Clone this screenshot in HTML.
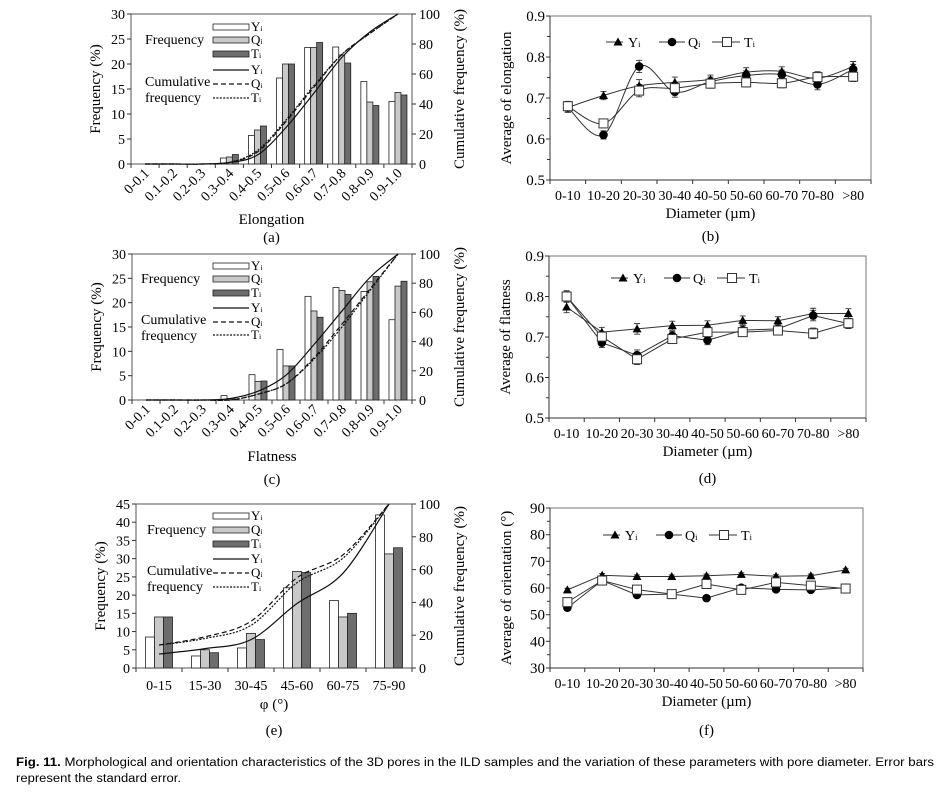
<!DOCTYPE html>
<html><head><meta charset="utf-8"><style>
html,body{margin:0;padding:0;background:#fff;}
svg{display:block;font-family:"Liberation Serif",serif;}
</style></head><body>
<svg id="fig" width="949" height="793" viewBox="0 0 949 793" xmlns="http://www.w3.org/2000/svg">
<text x="16" y="766" font-family="Liberation Sans Narrow, Liberation Sans, sans-serif" font-size="11.5" textLength="918" lengthAdjust="spacingAndGlyphs"><tspan font-weight="bold">Fig. 11.</tspan> Morphological and orientation characteristics of the 3D pores in the ILD samples and the variation of these parameters with pore diameter. Error bars</text>
<text x="16" y="782" font-family="Liberation Sans Narrow, Liberation Sans, sans-serif" font-size="11.5" textLength="165" lengthAdjust="spacingAndGlyphs">represent the standard error.</text>
</svg>
<script>
// ---------- data ----------
const elongCats = ['0-0.1','0.1-0.2','0.2-0.3','0.3-0.4','0.4-0.5','0.5-0.6','0.6-0.7','0.7-0.8','0.8-0.9','0.9-1.0'];
const elongY = [0,0,0,1.2,5.7,17.2,23.3,23.4,16.5,12.5];
const elongQ = [0,0,0,1.4,6.8,20.0,23.3,21.8,12.4,14.3];
const elongT = [0,0,0,1.9,7.6,20.0,24.3,20.2,11.7,13.8];
const elongCumY = [0,0,0,1,6,24,47,71,88,100];
const elongCumQ = [0,0,0,1,8,28,51,73,87,100];
const elongCumT = [0,0,0,1,9,29,52,73,87,100];

const flatCats = elongCats;
const flatY = [0,0,0,0.9,5.2,10.4,21.3,23.1,22.3,16.5];
const flatQ = [0,0,0,0.3,3.8,7.0,18.3,22.5,24.3,23.4];
const flatT = [0,0,0,0.2,3.9,7.0,17.0,21.7,25.4,24.4];
const flatCumY = [0,0,0,1,6,17,38,61,84,100];
const flatCumQ = [0,0,0,0,4,11,29,52,76,100];
const flatCumT = [0,0,0,0,4,11,28,50,75,100];

const phiCats = ['0-15','15-30','30-45','45-60','60-75','75-90'];
const phiY = [8.5,3.3,5.5,22.0,18.5,42.0];
const phiQ = [14.0,5.0,9.5,26.5,14.0,31.3];
const phiT = [14.0,4.2,7.8,26.2,15.0,33.0];
const phiCumY = [8.5,11.8,17.3,39.3,57.8,100];
const phiCumQ = [14,19,28.5,55,69,100];
const phiCumT = [14,18,26,52,67,100];

const diamCats = ['0-10','10-20','20-30','30-40','40-50','50-60','60-70','70-80','>80'];
const elAvgY = [0.677,0.706,0.730,0.738,0.745,0.763,0.765,0.748,0.777];
const elAvgQ = [0.677,0.610,0.777,0.715,0.740,0.755,0.757,0.733,0.770];
const elAvgT = [0.680,0.638,0.718,0.724,0.735,0.738,0.736,0.751,0.752];
const elErr = [0.012,0.010,0.015,0.013,0.011,0.011,0.011,0.013,0.012];
const flAvgY = [0.774,0.712,0.720,0.728,0.729,0.741,0.740,0.758,0.758];
const flAvgQ = [0.800,0.686,0.655,0.703,0.692,0.717,0.720,0.753,0.733];
const flAvgT = [0.800,0.701,0.645,0.695,0.712,0.712,0.716,0.709,0.734];
const flErr = [0.014,0.012,0.013,0.011,0.011,0.011,0.010,0.013,0.012];
const orAvgY = [59.3,64.8,64.3,64.3,64.6,65.1,64.4,64.6,66.8];
const orAvgQ = [52.6,62.8,57.4,57.7,56.2,60.1,59.5,59.3,60.1];
const orAvgT = [54.7,62.8,59.4,57.7,61.5,59.3,62.1,60.9,59.8];
const orErr = [0.6,0.6,0.6,0.6,0.6,0.6,0.6,0.6,0.6];

const leftTicks30 = [0,5,10,15,20,25,30];
const leftTicks45 = [0,5,10,15,20,25,30,35,40,45];
const cumTicks = [0,20,40,60,80,100];
const elTicks = [0.5,0.6,0.7,0.8,0.9];
const orTicks = [30,40,50,60,70,80,90];

// ---------- helpers ----------
const NS = 'http://www.w3.org/2000/svg';
const svg = document.getElementById('fig');
function mk(tag, attrs, parent){
  const e = document.createElementNS(NS, tag);
  for (const k in attrs) e.setAttribute(k, attrs[k]);
  (parent||svg).appendChild(e);
  return e;
}
function txt(str, attrs, parent){
  const e = mk('text', attrs, parent);
  e.textContent = str;
  return e;
}
function sub(e, base, s){
  e.textContent = base;
  const t = document.createElementNS(NS,'tspan');
  t.setAttribute('font-size','0.6em');
  t.textContent = s;
  e.appendChild(t);
}
function smooth(pts){
  let d = 'M'+pts[0][0]+','+pts[0][1];
  for (let i=0;i<pts.length-1;i++){
    const p0=pts[Math.max(0,i-1)], p1=pts[i], p2=pts[i+1], p3=pts[Math.min(pts.length-1,i+2)];
    const c1x=p1[0]+(p2[0]-p0[0])/6, c1y=p1[1]+(p2[1]-p0[1])/6;
    const c2x=p2[0]-(p3[0]-p1[0])/6, c2y=p2[1]-(p3[1]-p1[1])/6;
    d += ' C'+c1x+','+c1y+' '+c2x+','+c2y+' '+p2[0]+','+p2[1];
  }
  return d;
}
const FILLS = ['#ffffff','#c9c9c9','#6d6d6d'];
const DASH = ['none','5,3','2,1.4'];
const SER = ['Y','Q','T'];

// ---------- frequency panel ----------
function freqPanel(p){
  const g = mk('g',{});
  
  
  const n = p.cats.length, cw = (p.R-p.L)/n;
  const yS = v => p.B - (v/p.ymax)*(p.B-p.T);
  const cS = v => p.B - (v/100)*(p.B-p.T);
  const xC = i => p.L + cw*(i+0.5);
  const frame = mk('rect',{x:p.L,y:p.T,width:p.R-p.L,height:p.B-p.T,fill:'none',stroke:'#555','stroke-width':1},g);
  
  
  p.ticks.forEach(v=>{
    const y=yS(v);
    mk('line',{x1:p.L-4,x2:p.L,y1:y,y2:y,stroke:'#333'},g);
    const t = txt(String(v),{x:p.L-6,y:y+5,'text-anchor':'end','font-size':14},g);
    
    
  });
  cumTicks.forEach(v=>{
    const y=cS(v);
    mk('line',{x1:p.R,x2:p.R+4,y1:y,y2:y,stroke:'#333'},g);
    const t = txt(String(v),{x:p.R+7,y:y+5,'font-size':14},g);
    
    
  });
  for (let i=0;i<=n;i++){
    const x=p.L+cw*i;
    mk('line',{x1:x,x2:x,y1:p.B,y2:p.B+4,stroke:'#333'},g);
  }
  const series=[p.y,p.q,p.t];
  const bw=p.bw;
  series.forEach((arr,s)=>{
    arr.forEach((v,i)=>{
      if (v<=0) return;
      const x = xC(i)+(s-1.5)*bw;
      const r = mk('rect',{x:x,y:yS(v),width:bw,height:p.B-yS(v),fill:FILLS[s],stroke:'#222','stroke-width':0.8},g);
      
      
    });
  });
  [p.cy,p.cq,p.ct].forEach((arr,s)=>{
    const pts = arr.map((v,i)=>[xC(i),cS(v)]);
    const path = mk('path',{d:smooth(pts),fill:'none',stroke:'#111','stroke-width':1.2,'stroke-dasharray':DASH[s]},g);
    
    
  });
  p.cats.forEach((c,i)=>{
    if (p.rot){
      const x=xC(i)+5, y=p.B+10;
      const t = txt(c,{x:x,y:y,'text-anchor':'end','font-size':14,transform:'rotate(-45 '+x+' '+y+')'},g);
      
      
    } else {
      const t = txt(c,{x:xC(i),y:p.B+22,'text-anchor':'middle','font-size':14},g);
      
      
    }
  });
  const yt = txt('Frequency (%)',{x:0,y:0,'text-anchor':'middle','font-size':15,transform:'translate('+(p.L-31)+','+((p.T+p.B)/2)+') rotate(-90)'},g);
  
  
  const y2 = txt('Cumulative frequency (%)',{x:0,y:0,'text-anchor':'middle','font-size':15,transform:'translate('+(p.R+52)+','+((p.T+p.B)/2)+') rotate(-90)'},g);
  
  
  const xt = txt(p.xlabel,{x:(p.L+p.R)/2,y:p.xly,'text-anchor':'middle','font-size':15},g);
  
  
  const pl = txt(p.letter,{x:(p.L+p.R)/2,y:p.ply,'text-anchor':'middle','font-size':15},g);
  
  
  // legend
  const lg = mk('g',{},g);
  
  
  const f1 = txt('Frequency',{x:p.lgx,y:p.lg[1]+4,'font-size':14},lg);
  
  
  const c1 = txt('Cumulative',{x:p.lgx,y:p.lg[4]+2,'font-size':14},lg);
  
  
  const c2 = txt('frequency',{x:p.lgx,y:p.lg[4]+18,'font-size':14},lg);
  
  
  for (let s=0;s<3;s++){
    const r = mk('rect',{x:213,y:p.lg[s]-3,width:36,height:6,fill:FILLS[s],stroke:'#222','stroke-width':0.8},lg);
    
    
    const t = txt('',{x:251,y:p.lg[s]+4,'font-size':13},lg);
    sub(t,SER[s],'i');
    
    
    const l = mk('line',{x1:213,x2:249,y1:p.lg[s+3],y2:p.lg[s+3],stroke:'#111','stroke-width':1.2,'stroke-dasharray':DASH[s]},lg);
    
    
    const t2 = txt('',{x:251,y:p.lg[s+3]+4,'font-size':13},lg);
    sub(t2,SER[s],'i');
    
    
  }
}

// ---------- average panel ----------
function marker(s,x,y,parent){
  let m;
  if (s===0) m = mk('path',{d:'M'+x+','+(y-4.5)+' L'+(x+4.5)+','+(y+3.5)+' L'+(x-4.5)+','+(y+3.5)+'Z',fill:'#000'},parent);
  else if (s===1) m = mk('circle',{cx:x,cy:y,r:4.3,fill:'#000'},parent);
  else m = mk('rect',{x:x-4.5,y:y-4.5,width:9,height:9,fill:'#fff',stroke:'#333','stroke-width':1},parent);
  return m;
}
function avgPanel(p){
  const g = mk('g',{});
  
  
  const n = diamCats.length, cw=(p.R-p.L)/n;
  const yS = v => p.B - (v-p.ymin)/(p.ymax-p.ymin)*(p.B-p.T);
  const xC = i => p.L + cw*(i+0.5);
  const frame = mk('rect',{x:p.L,y:p.T,width:p.R-p.L,height:p.B-p.T,fill:'none',stroke:'#777','stroke-width':1},g);
  
  
  mk('line',{x1:p.L,x2:p.L,y1:p.T,y2:p.B,stroke:'#333'},g);
  mk('line',{x1:p.L,x2:p.R,y1:p.B,y2:p.B,stroke:'#333'},g);
  p.ticks.forEach((v,k)=>{
    const y=yS(v);
    mk('line',{x1:p.L-4,x2:p.L,y1:y,y2:y,stroke:'#333'},g);
    if (k<p.ticks.length-1){
      const ym=yS(v+(p.ticks[1]-p.ticks[0])/2);
      mk('line',{x1:p.L-3,x2:p.L,y1:ym,y2:ym,stroke:'#333'},g);
    }
    const t = txt(String(v),{x:p.L-5,y:y+5,'text-anchor':'end','font-size':15},g);
    
    
  });
  for (let i=0;i<=n;i++){
    const x=p.L+cw*i;
    mk('line',{x1:x,x2:x,y1:p.B,y2:p.B+4,stroke:'#333'},g);
  }
  diamCats.forEach((c,i)=>{
    const t = txt(c,{x:xC(i),y:p.B+20,'text-anchor':'middle','font-size':14},g);
    
    
  });
  const series=[p.y,p.q,p.t];
  series.forEach((arr,s)=>{
    const pts = arr.map((v,i)=>[xC(i),yS(v)]);
    const d = p.smooth ? smooth(pts) : 'M'+pts.map(q=>q.join(',')).join(' L');
    const path = mk('path',{d:d,fill:'none',stroke:'#333','stroke-width':1},g);
    
    
  });
  series.forEach((arr,s)=>{
    arr.forEach((v,i)=>{
      const x=xC(i), e=p.err[i];
      const y1=yS(v+e), y2=yS(v-e);
      const eb = mk('path',{d:'M'+x+','+y1+' L'+x+','+y2+' M'+(x-3)+','+y1+' L'+(x+3)+','+y1+' M'+(x-3)+','+y2+' L'+(x+3)+','+y2,stroke:'#333','stroke-width':0.9,fill:'none'},g);
      
      
    });
  });
  series.forEach((arr,s)=>{
    arr.forEach((v,i)=>{
      const m = marker(s,xC(i),yS(v),g);
      
      
    });
  });
  const yt = txt(p.ylabel,{x:0,y:0,'text-anchor':'middle','font-size':15,transform:'translate('+(p.L-39)+','+((p.T+p.B)/2)+') rotate(-90)'},g);
  
  
  const xt = txt('Diameter (\u00b5m)',{x:(p.L+p.R)/2,y:p.B+38,'text-anchor':'middle','font-size':15},g);
  
  
  const pl = txt(p.letter,{x:(p.L+p.R)/2,y:p.ply,'text-anchor':'middle','font-size':15},g);
  
  
  const lg = mk('g',{},g);
  
  
  const ly=p.ly, ox=p.lx;
  const spec=[[606,623,618,628],[659,685,672,688],[712,740,727,744]];
  spec.forEach((sp,s)=>{
    mk('line',{x1:sp[0]+ox,x2:sp[1]+ox,y1:ly,y2:ly,stroke:'#333'},lg);
    const m = marker(s,sp[2]+ox,ly,lg);
    
    
    const t = txt('',{x:sp[3]+ox,y:ly+5,'font-size':14},lg);
    sub(t,SER[s],'i');
    
    
  });
}

freqPanel({name:'panel-a-elongation-frequency',L:131,R:412,T:14,B:164,ymax:30,ticks:leftTicks30,cats:elongCats,y:elongY,q:elongQ,t:elongT,cy:elongCumY,cq:elongCumQ,ct:elongCumT,bw:6,rot:true,xlabel:'Elongation',xly:224,letter:'(a)',ply:242,lgx:145,lg:[27,40,54,70,84,98]});
freqPanel({name:'panel-c-flatness-frequency',L:132,R:412,T:254,B:400,ymax:30,ticks:leftTicks30,cats:flatCats,y:flatY,q:flatQ,t:flatT,cy:flatCumY,cq:flatCumQ,ct:flatCumT,bw:6,rot:true,xlabel:'Flatness',xly:461,letter:'(c)',ply:484,lgx:141,lg:[266,279,293,308,322,335]});
freqPanel({name:'panel-e-orientation-frequency',L:136,R:412,T:504,B:668,ymax:45,ticks:leftTicks45,cats:phiCats,y:phiY,q:phiQ,t:phiT,cy:phiCumY,cq:phiCumQ,ct:phiCumT,bw:9,rot:false,xlabel:'\u03c6 (\u00b0)',xly:709,letter:'(e)',ply:735,lgx:147,lg:[516,530,544,559,573,587]});

avgPanel({name:'panel-b-elongation-average',L:550,R:871,T:16,B:180,ymin:0.5,ymax:0.9,ticks:elTicks,y:elAvgY,q:elAvgQ,t:elAvgT,err:elErr,smooth:true,ylabel:'Average of elongation',letter:'(b)',ply:241,ly:42,lx:0});
avgPanel({name:'panel-d-flatness-average',L:549,R:866,T:256,B:418,ymin:0.5,ymax:0.9,ticks:elTicks,y:flAvgY,q:flAvgQ,t:flAvgT,err:flErr,smooth:false,ylabel:'Average of  flatness',letter:'(d)',ply:483,ly:278,lx:5});
avgPanel({name:'panel-f-orientation-average',L:550,R:863,T:508,B:668,ymin:30,ymax:90,ticks:orTicks,y:orAvgY,q:orAvgQ,t:orAvgT,err:orErr,smooth:false,ylabel:'Average of  orientation (\u00b0)',letter:'(f)',ply:735,ly:535,lx:-3});
</script>
</body></html>
